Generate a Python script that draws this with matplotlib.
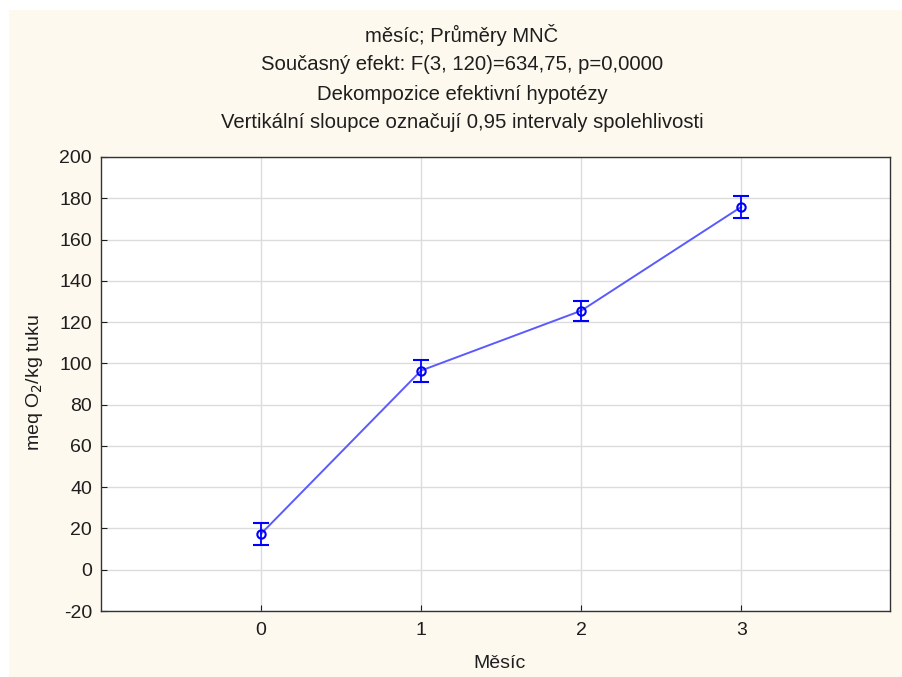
import matplotlib
matplotlib.use("Agg")
import matplotlib.pyplot as plt
from matplotlib.patches import Rectangle

months = [0, 1, 2, 3]
means = [17.4, 96.5, 125.5, 175.8]
ci_half = [5.3, 5.3, 4.8, 5.2]
yticks = list(range(-20, 201, 20))
title_lines = ["měsíc; Průměry MNČ",
               "Současný efekt: F(3, 120)=634,75, p=0,0000",
               "Dekompozice efektivní hypotézy",
               "Vertikální sloupce označují 0,95 intervaly spolehlivosti"]

plt.rcParams['font.family'] = ['Liberation Sans', 'DejaVu Sans']
plt.rcParams['axes.unicode_minus'] = False

W, H = 903, 677
fig = plt.figure(figsize=(W / 100, H / 100), dpi=100, facecolor='white')
# cream background panel
fig.patches.append(Rectangle((9 / W, 0), 1 - 9 / W, 1 - 10 / H, transform=fig.transFigure,
                             facecolor='#fef9ef', edgecolor='none', zorder=-10))

ax = fig.add_axes([101 / W, 1 - 611 / H, (890 - 101) / W, (611 - 157) / H])
ax.set_facecolor('white')
ax.plot(months, means, color='#5a5aff', lw=1.4, zorder=3)
ax.errorbar(months, means, yerr=ci_half, fmt='o', mfc='none', mec='#0000ff', ms=6, mew=1.5,
            ecolor='#0000ff', elinewidth=1.3, capsize=5.5, capthick=1.3, zorder=4)

ax.set_xlim(-1.0, 3.93)
ax.set_ylim(-20, 200)
ax.set_xticks(months)
ax.set_yticks(yticks)
ax.grid(True, color='#dcdcdc', lw=1.0)
ax.set_axisbelow(True)
ax.tick_params(direction='in', length=4, labelsize=14, colors='#1e1e1e')
ax.tick_params(axis='y', pad=6.5)
ax.tick_params(axis='x', pad=8)
for s in ax.spines.values():
    s.set_color('#333333')
    s.set_linewidth(1.0)

ax.set_xlabel("Měsíc", fontsize=14, color='#1e1e1e')
ax.set_ylabel("meq O$_2$/kg tuku", fontsize=14, color='#1e1e1e')
ax.xaxis.label.set_va('center')
ax.yaxis.label.set_va('center')
ax.xaxis.set_label_coords((500 - 101) / 789, (611 - 663) / 454)
ax.yaxis.set_label_coords((34 - 101) / 789, (611 - 383) / 454)

ys = [35, 64, 94, 123]
for t, y in zip(title_lines, ys):
    fig.text(462 / W, 1 - y / H, t, ha='center', va='center', fontsize=14.6, color='#1e1e1e')

fig.savefig("out.png", dpi=100, facecolor=fig.get_facecolor())
